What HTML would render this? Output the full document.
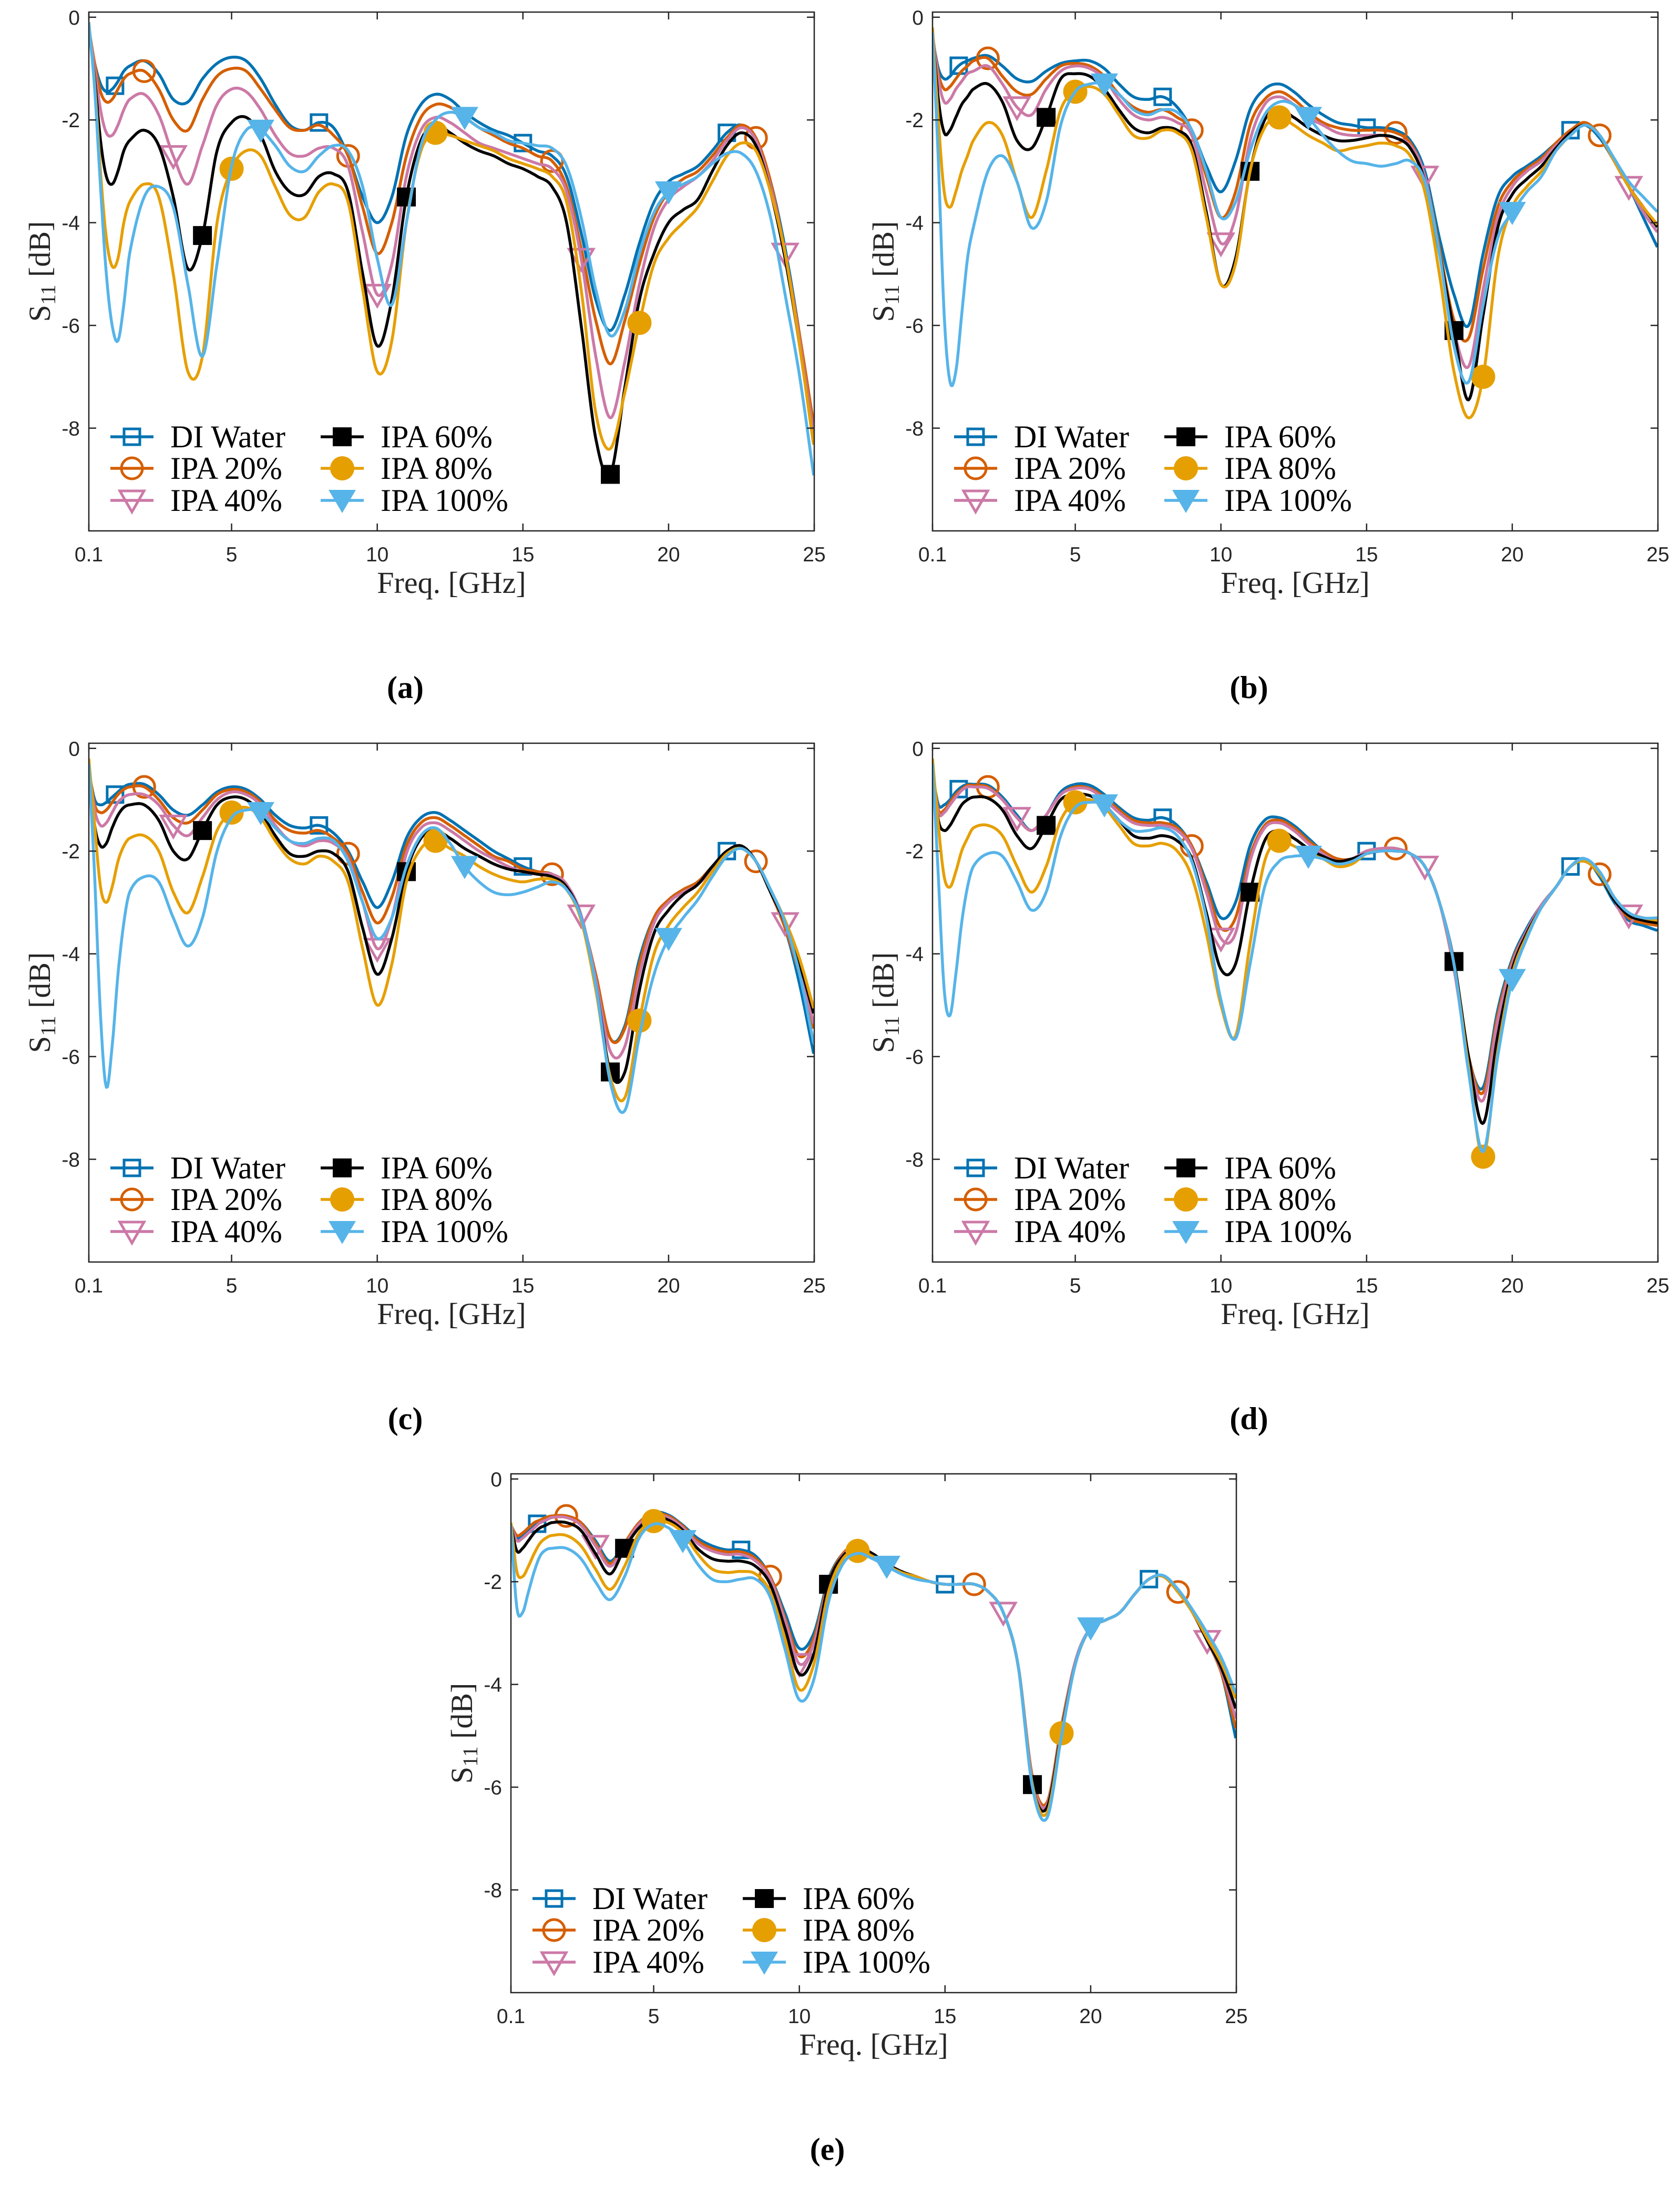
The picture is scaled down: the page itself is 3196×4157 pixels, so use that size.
<!DOCTYPE html>
<html><head><meta charset="utf-8"><title>S11 vs frequency, five panels</title>
<style>
html,body{margin:0;padding:0;background:#fff;}
svg{display:block;}
.tick{font-family:"Liberation Sans",sans-serif;font-size:39px;fill:#262626;}
.lab{font-family:"Liberation Serif",serif;font-size:58px;fill:#262626;}
.leg{font-family:"Liberation Serif",serif;font-size:60px;fill:#000;}
.sub{font-family:"Liberation Serif",serif;font-size:60px;font-weight:bold;fill:#000;}
</style></head>
<body>
<svg id="fig" xmlns="http://www.w3.org/2000/svg" width="3196" height="4157" viewBox="0 0 3196 4157"></svg>
<script>
const freqs = [0.1,0.3,0.5,0.7,0.9,1.1,1.3,1.5,2,2.5,3,3.5,4,4.5,5,5.5,6,6.5,7,7.5,8,8.5,9,9.5,10,10.5,11,11.5,12,12.5,13,13.5,14,14.5,15,15.5,16,16.5,17,17.5,18,18.5,19,19.5,20,20.5,21,21.5,22,22.5,23,23.5,24,24.5,25];
const xTicks = [0.1,5,10,15,20,25];
const xTickLabels = ["0.1","5","10","15","20","25"];
const yTicks = [0,-2,-4,-6,-8];
const yTickLabels = ["0","-2","-4","-6","-8"];
const seriesNames = ["DI Water","IPA 20%","IPA 40%","IPA 60%","IPA 80%","IPA 100%"];
const markerFreqs = [[1,8,15,22],[2,9,16,23],[3,10,17,24],[4,11,18],[5,12,19],[6,13,20]];
const panelLabels = ["(a)","(b)","(c)","(d)","(e)"];

const a_di  = [-0.35,-0.9,-1.3,-1.45,-1.4,-1.25,-1.05,-0.95,-0.85,-1.1,-1.6,-1.65,-1.2,-0.9,-0.78,-0.85,-1.2,-1.7,-2.1,-2.2,-2.05,-2.15,-2.7,-3.5,-4.0,-3.5,-2.3,-1.7,-1.5,-1.6,-1.85,-2.05,-2.2,-2.3,-2.45,-2.6,-2.7,-3.1,-4.2,-5.5,-6.1,-5.4,-4.4,-3.6,-3.2,-3.05,-2.9,-2.6,-2.25,-2.1,-2.4,-3.2,-4.5,-6.2,-8.2];
const a_20  = [-0.2,-0.9,-1.45,-1.65,-1.6,-1.4,-1.2,-1.1,-1.05,-1.4,-2.0,-2.2,-1.6,-1.15,-1.0,-1.05,-1.4,-1.8,-2.15,-2.2,-2.1,-2.3,-2.7,-3.7,-4.6,-4.0,-2.7,-1.95,-1.7,-1.75,-1.95,-2.15,-2.3,-2.45,-2.55,-2.7,-2.8,-3.3,-4.5,-5.9,-6.75,-5.9,-4.8,-3.9,-3.4,-3.15,-3.0,-2.7,-2.35,-2.1,-2.35,-3.2,-4.6,-6.2,-8.0];
const a_40  = [-0.2,-1.0,-1.8,-2.25,-2.3,-2.1,-1.8,-1.6,-1.5,-1.9,-2.7,-3.25,-2.5,-1.7,-1.4,-1.45,-1.8,-2.3,-2.65,-2.7,-2.55,-2.55,-2.9,-4.2,-5.4,-4.8,-3.1,-2.2,-1.95,-2.05,-2.25,-2.45,-2.55,-2.65,-2.75,-2.85,-2.95,-3.4,-4.7,-6.6,-7.8,-6.7,-5.2,-4.1,-3.55,-3.3,-3.1,-2.8,-2.4,-2.15,-2.4,-3.3,-4.6,-6.3,-8.2];
const a_60  = [-0.2,-1.2,-2.4,-3.1,-3.25,-3.0,-2.6,-2.4,-2.2,-2.5,-3.5,-4.9,-4.25,-2.6,-2.05,-1.95,-2.3,-3.0,-3.4,-3.45,-3.1,-3.05,-3.4,-5.0,-6.4,-5.5,-3.5,-2.4,-2.1,-2.25,-2.45,-2.6,-2.7,-2.85,-2.95,-3.1,-3.3,-4.0,-6.0,-8.2,-8.9,-7.2,-5.5,-4.6,-4.0,-3.75,-3.55,-3.0,-2.5,-2.25,-2.5,-3.4,-4.7,-6.4,-8.4];
const a_80  = [-0.1,-1.3,-3.0,-4.3,-4.85,-4.7,-4.0,-3.6,-3.25,-3.5,-5.0,-6.9,-6.6,-4.0,-2.95,-2.6,-2.7,-3.3,-3.85,-3.9,-3.4,-3.25,-3.6,-5.3,-6.9,-6.3,-4.0,-2.6,-2.25,-2.3,-2.4,-2.5,-2.6,-2.75,-2.85,-2.95,-3.1,-3.6,-5.3,-7.7,-8.4,-7.3,-5.95,-4.8,-4.3,-4.0,-3.7,-3.2,-2.7,-2.45,-2.6,-3.4,-4.6,-6.4,-8.4];
const a_100 = [-0.1,-1.4,-3.3,-5.0,-6.0,-6.3,-5.6,-4.6,-3.5,-3.3,-3.7,-5.2,-6.6,-4.8,-2.9,-2.2,-2.2,-2.5,-2.9,-3.0,-2.7,-2.5,-2.6,-3.3,-4.7,-5.6,-4.0,-2.5,-2.0,-1.85,-1.95,-2.15,-2.25,-2.4,-2.45,-2.5,-2.55,-2.9,-3.9,-5.3,-6.2,-5.7,-4.6,-3.8,-3.4,-3.25,-3.1,-2.85,-2.65,-2.65,-3.0,-3.9,-5.4,-7.0,-9.0];

const b_di  = [-0.4,-1.0,-1.2,-1.15,-1.0,-0.9,-0.85,-0.8,-0.75,-0.95,-1.2,-1.25,-1.05,-0.9,-0.85,-0.85,-1.0,-1.3,-1.55,-1.6,-1.55,-1.75,-2.2,-2.9,-3.4,-2.8,-1.8,-1.4,-1.3,-1.45,-1.7,-1.9,-2.05,-2.1,-2.15,-2.15,-2.2,-2.4,-3.0,-4.3,-5.4,-6.0,-4.6,-3.5,-3.1,-2.9,-2.7,-2.45,-2.2,-2.1,-2.35,-2.8,-3.3,-3.9,-4.5];
const b_20  = [-0.35,-1.1,-1.4,-1.35,-1.2,-1.05,-0.95,-0.85,-0.8,-1.15,-1.45,-1.5,-1.2,-0.95,-0.9,-0.95,-1.15,-1.5,-1.75,-1.85,-1.8,-1.95,-2.2,-3.1,-3.9,-3.4,-2.1,-1.6,-1.45,-1.6,-1.85,-2.05,-2.15,-2.2,-2.2,-2.2,-2.25,-2.45,-3.1,-4.5,-5.9,-6.25,-4.9,-3.7,-3.2,-2.95,-2.75,-2.45,-2.2,-2.05,-2.3,-2.8,-3.3,-3.7,-4.1];
const b_40  = [-0.3,-1.2,-1.65,-1.6,-1.4,-1.25,-1.1,-1.05,-0.95,-1.3,-1.75,-1.9,-1.4,-1.05,-0.95,-1.0,-1.2,-1.6,-1.9,-2.0,-1.95,-2.05,-2.3,-3.4,-4.4,-3.9,-2.4,-1.7,-1.55,-1.7,-1.95,-2.1,-2.25,-2.3,-2.3,-2.3,-2.35,-2.5,-3.1,-4.6,-6.1,-6.8,-5.3,-3.9,-3.3,-3.0,-2.8,-2.5,-2.25,-2.1,-2.3,-2.8,-3.3,-3.8,-4.2];
const b_60  = [-0.3,-1.6,-2.25,-2.2,-1.95,-1.7,-1.55,-1.4,-1.3,-1.65,-2.4,-2.55,-1.95,-1.2,-1.1,-1.15,-1.4,-1.8,-2.15,-2.25,-2.15,-2.2,-2.5,-3.8,-5.2,-4.7,-3.0,-2.0,-1.8,-1.95,-2.15,-2.3,-2.4,-2.4,-2.35,-2.3,-2.35,-2.55,-3.2,-4.6,-6.1,-7.45,-5.8,-4.1,-3.45,-3.15,-2.9,-2.55,-2.25,-2.1,-2.3,-2.8,-3.3,-3.7,-4.1];
const b_80  = [-0.2,-2.0,-3.4,-3.7,-3.4,-3.0,-2.7,-2.4,-2.05,-2.3,-3.2,-3.9,-3.0,-1.8,-1.45,-1.35,-1.5,-1.9,-2.3,-2.35,-2.2,-2.25,-2.6,-3.9,-5.2,-4.8,-3.0,-2.15,-1.95,-2.1,-2.3,-2.45,-2.6,-2.55,-2.5,-2.45,-2.5,-2.7,-3.4,-5.0,-6.9,-7.8,-7.0,-4.7,-3.7,-3.3,-3.0,-2.6,-2.3,-2.1,-2.3,-2.8,-3.3,-3.7,-4.05];
const b_100 = [-0.3,-2.8,-5.8,-7.1,-6.9,-5.8,-4.7,-4.1,-3.0,-2.7,-3.2,-4.1,-3.6,-2.1,-1.45,-1.3,-1.3,-1.5,-1.8,-1.9,-1.8,-1.85,-2.2,-3.0,-3.9,-3.6,-2.6,-1.9,-1.65,-1.7,-1.95,-2.3,-2.6,-2.8,-2.85,-2.9,-2.85,-2.8,-3.2,-4.6,-6.4,-7.1,-5.6,-4.3,-3.8,-3.4,-3.1,-2.6,-2.3,-2.1,-2.3,-2.75,-3.2,-3.5,-3.8];

const c_di  = [-0.45,-1.0,-1.1,-1.05,-0.95,-0.85,-0.75,-0.7,-0.7,-0.9,-1.2,-1.3,-1.1,-0.85,-0.75,-0.8,-1.0,-1.3,-1.5,-1.55,-1.5,-1.65,-2.0,-2.6,-3.1,-2.6,-1.75,-1.35,-1.25,-1.4,-1.6,-1.8,-2.0,-2.15,-2.3,-2.4,-2.45,-2.7,-3.3,-4.4,-5.65,-5.4,-4.1,-3.3,-2.95,-2.75,-2.6,-2.3,-2.0,-1.9,-2.2,-2.8,-3.5,-4.6,-6.0];
const c_20  = [-0.4,-1.1,-1.25,-1.2,-1.05,-0.9,-0.8,-0.75,-0.75,-1.0,-1.35,-1.45,-1.2,-0.9,-0.8,-0.85,-1.05,-1.4,-1.6,-1.65,-1.6,-1.75,-2.05,-2.8,-3.4,-2.9,-1.9,-1.45,-1.35,-1.5,-1.7,-1.9,-2.1,-2.2,-2.35,-2.4,-2.45,-2.65,-3.3,-4.4,-5.65,-5.45,-4.2,-3.3,-2.95,-2.75,-2.6,-2.3,-2.0,-1.9,-2.2,-2.8,-3.5,-4.4,-5.5];
const c_40  = [-0.35,-1.2,-1.5,-1.45,-1.25,-1.05,-0.95,-0.9,-0.9,-1.1,-1.5,-1.7,-1.35,-1.0,-0.85,-0.9,-1.1,-1.5,-1.8,-1.9,-1.8,-1.85,-2.15,-3.0,-3.9,-3.3,-2.05,-1.55,-1.45,-1.6,-1.8,-2.0,-2.15,-2.3,-2.4,-2.45,-2.45,-2.65,-3.25,-4.5,-5.9,-5.8,-4.4,-3.4,-3.0,-2.8,-2.65,-2.35,-2.05,-1.95,-2.2,-2.8,-3.4,-4.3,-5.4];
const c_60  = [-0.35,-1.5,-1.9,-1.85,-1.55,-1.3,-1.15,-1.1,-1.1,-1.4,-2.0,-2.15,-1.6,-1.1,-0.95,-1.0,-1.25,-1.7,-2.05,-2.1,-2.0,-2.05,-2.4,-3.5,-4.4,-3.7,-2.4,-1.75,-1.6,-1.75,-1.95,-2.1,-2.25,-2.35,-2.4,-2.45,-2.5,-2.7,-3.3,-4.6,-6.3,-6.3,-4.7,-3.6,-3.15,-2.85,-2.65,-2.3,-2.0,-1.9,-2.2,-2.8,-3.4,-4.2,-5.2];
const c_80  = [-0.2,-1.5,-2.7,-3.0,-2.7,-2.2,-1.9,-1.75,-1.7,-2.0,-2.8,-3.2,-2.5,-1.6,-1.25,-1.15,-1.35,-1.8,-2.15,-2.25,-2.1,-2.2,-2.6,-3.9,-5.0,-4.2,-2.6,-1.95,-1.8,-1.95,-2.1,-2.3,-2.45,-2.55,-2.6,-2.55,-2.55,-2.75,-3.35,-4.7,-6.4,-6.8,-5.3,-4.0,-3.45,-3.1,-2.8,-2.4,-2.05,-1.95,-2.2,-2.75,-3.35,-4.1,-5.1];
const c_100 = [-0.3,-2.5,-5.2,-6.6,-5.8,-4.4,-3.4,-2.8,-2.5,-2.6,-3.3,-3.85,-3.3,-2.0,-1.35,-1.2,-1.25,-1.55,-1.8,-1.85,-1.75,-1.8,-2.2,-3.0,-3.7,-3.3,-2.3,-1.7,-1.55,-1.85,-2.3,-2.6,-2.8,-2.85,-2.8,-2.7,-2.6,-2.75,-3.3,-4.6,-6.5,-7.05,-5.6,-4.4,-3.7,-3.3,-2.95,-2.5,-2.1,-1.95,-2.2,-2.75,-3.4,-4.4,-5.8];

const d_di  = [-0.5,-1.1,-1.1,-1.0,-0.85,-0.75,-0.7,-0.7,-0.72,-0.95,-1.3,-1.6,-1.3,-0.85,-0.7,-0.72,-0.9,-1.15,-1.35,-1.4,-1.35,-1.5,-1.9,-2.6,-3.3,-3.0,-1.9,-1.4,-1.35,-1.5,-1.75,-2.0,-2.15,-2.15,-2.0,-1.95,-1.95,-2.05,-2.3,-3.0,-4.2,-6.0,-6.6,-5.1,-4.1,-3.5,-3.05,-2.7,-2.3,-2.15,-2.5,-3.0,-3.35,-3.45,-3.55];
const d_20  = [-0.45,-1.2,-1.2,-1.05,-0.9,-0.8,-0.72,-0.72,-0.75,-1.0,-1.35,-1.6,-1.3,-0.9,-0.75,-0.78,-0.95,-1.2,-1.4,-1.45,-1.45,-1.55,-1.9,-2.7,-3.5,-3.3,-2.1,-1.5,-1.4,-1.55,-1.8,-2.0,-2.15,-2.15,-2.0,-1.95,-1.95,-2.05,-2.3,-3.0,-4.3,-6.0,-6.7,-5.2,-4.15,-3.55,-3.05,-2.7,-2.3,-2.2,-2.45,-2.95,-3.3,-3.4,-3.45];
const d_40  = [-0.45,-1.25,-1.25,-1.1,-0.95,-0.82,-0.75,-0.75,-0.78,-1.0,-1.35,-1.6,-1.3,-0.9,-0.78,-0.8,-1.0,-1.25,-1.45,-1.5,-1.5,-1.6,-1.95,-2.8,-3.7,-3.6,-2.2,-1.55,-1.45,-1.6,-1.85,-2.05,-2.2,-2.15,-2.0,-1.95,-1.95,-2.05,-2.3,-3.0,-4.3,-6.05,-6.85,-5.3,-4.2,-3.55,-3.05,-2.7,-2.3,-2.2,-2.45,-2.95,-3.25,-3.35,-3.4];
const d_60  = [-0.45,-1.4,-1.6,-1.5,-1.3,-1.1,-1.0,-0.95,-0.97,-1.2,-1.7,-1.95,-1.5,-1.0,-0.9,-0.92,-1.1,-1.4,-1.7,-1.75,-1.7,-1.8,-2.15,-3.2,-4.3,-4.2,-2.8,-1.8,-1.6,-1.75,-1.95,-2.1,-2.2,-2.15,-2.05,-2.0,-2.0,-2.05,-2.3,-3.0,-4.15,-6.0,-7.3,-5.6,-4.3,-3.6,-3.1,-2.7,-2.3,-2.2,-2.45,-2.95,-3.25,-3.35,-3.4];
const d_80  = [-0.2,-1.5,-2.5,-2.7,-2.4,-2.0,-1.75,-1.55,-1.5,-1.7,-2.3,-2.8,-2.3,-1.4,-1.05,-1.0,-1.15,-1.5,-1.85,-1.9,-1.85,-2.0,-2.5,-3.6,-5.0,-5.6,-3.8,-2.2,-1.8,-1.9,-2.05,-2.15,-2.3,-2.25,-2.05,-2.0,-2.0,-2.05,-2.3,-3.0,-4.2,-6.2,-7.95,-5.9,-4.4,-3.65,-3.1,-2.7,-2.3,-2.2,-2.45,-2.9,-3.2,-3.3,-3.35];
const d_100 = [-0.3,-2.5,-4.7,-5.2,-4.4,-3.4,-2.7,-2.3,-2.05,-2.1,-2.6,-3.15,-2.8,-1.7,-1.15,-1.05,-1.1,-1.4,-1.6,-1.6,-1.55,-1.7,-2.2,-3.3,-4.9,-5.65,-4.2,-2.7,-2.2,-2.1,-2.1,-2.15,-2.25,-2.2,-2.05,-2.0,-2.0,-2.05,-2.3,-3.0,-4.2,-6.3,-7.85,-6.0,-4.5,-3.7,-3.1,-2.7,-2.3,-2.15,-2.4,-2.9,-3.2,-3.3,-3.3];

const e_di  = [-0.9,-1.15,-1.1,-1.0,-0.9,-0.85,-0.8,-0.75,-0.72,-0.85,-1.2,-1.6,-1.25,-0.85,-0.65,-0.7,-0.9,-1.15,-1.3,-1.38,-1.38,-1.5,-1.9,-2.6,-3.3,-3.0,-1.95,-1.45,-1.3,-1.45,-1.65,-1.8,-1.9,-2.0,-2.05,-2.05,-2.05,-2.2,-2.6,-3.6,-5.8,-6.3,-4.8,-3.5,-2.9,-2.75,-2.6,-2.25,-1.95,-1.9,-2.2,-2.6,-3.1,-3.8,-5.1];
const e_20  = [-0.9,-1.1,-1.05,-0.95,-0.85,-0.8,-0.75,-0.72,-0.72,-0.85,-1.25,-1.65,-1.25,-0.85,-0.68,-0.72,-0.92,-1.2,-1.35,-1.42,-1.42,-1.55,-1.9,-2.7,-3.45,-3.1,-2.0,-1.45,-1.3,-1.45,-1.65,-1.8,-1.9,-2.0,-2.05,-2.05,-2.05,-2.2,-2.6,-3.6,-5.8,-6.3,-4.8,-3.5,-2.9,-2.75,-2.6,-2.25,-1.95,-1.9,-2.2,-2.6,-3.15,-3.8,-4.9];
const e_40  = [-0.9,-1.2,-1.15,-1.05,-0.95,-0.85,-0.8,-0.75,-0.75,-0.9,-1.3,-1.7,-1.3,-0.88,-0.7,-0.75,-0.95,-1.25,-1.4,-1.47,-1.47,-1.6,-1.95,-2.75,-3.6,-3.2,-2.05,-1.48,-1.32,-1.45,-1.65,-1.8,-1.9,-2.0,-2.05,-2.05,-2.05,-2.2,-2.6,-3.6,-5.85,-6.35,-4.85,-3.5,-2.9,-2.75,-2.6,-2.25,-1.95,-1.9,-2.2,-2.6,-3.15,-3.75,-4.7];
const e_60  = [-0.9,-1.4,-1.35,-1.2,-1.05,-0.95,-0.9,-0.85,-0.85,-1.0,-1.45,-1.85,-1.35,-0.95,-0.75,-0.8,-1.0,-1.35,-1.55,-1.6,-1.6,-1.7,-2.05,-2.9,-3.8,-3.4,-2.05,-1.5,-1.35,-1.45,-1.65,-1.8,-1.9,-2.0,-2.05,-2.05,-2.05,-2.2,-2.6,-3.6,-5.95,-6.4,-4.9,-3.55,-2.9,-2.75,-2.6,-2.25,-1.95,-1.9,-2.2,-2.6,-3.15,-3.7,-4.5];
const e_80  = [-0.85,-1.8,-1.9,-1.7,-1.45,-1.25,-1.15,-1.1,-1.1,-1.3,-1.75,-2.15,-1.7,-1.05,-0.82,-0.85,-1.05,-1.45,-1.75,-1.82,-1.8,-1.85,-2.2,-3.1,-4.1,-3.6,-2.2,-1.55,-1.4,-1.5,-1.68,-1.82,-1.9,-2.0,-2.05,-2.05,-2.05,-2.2,-2.6,-3.6,-5.95,-6.5,-4.95,-3.55,-2.9,-2.75,-2.6,-2.25,-1.95,-1.9,-2.2,-2.6,-3.1,-3.6,-4.3];
const e_100 = [-0.9,-2.5,-2.6,-2.2,-1.8,-1.5,-1.38,-1.35,-1.35,-1.55,-2.0,-2.35,-1.9,-1.15,-0.88,-0.95,-1.2,-1.65,-1.95,-2.0,-1.95,-1.95,-2.3,-3.3,-4.3,-3.9,-2.4,-1.65,-1.45,-1.55,-1.7,-1.85,-1.95,-2.0,-2.05,-2.05,-2.05,-2.2,-2.6,-3.6,-6.0,-6.6,-5.0,-3.55,-2.9,-2.75,-2.6,-2.25,-1.95,-1.88,-2.15,-2.55,-3.0,-3.5,-4.2];

const panelA = [a_di,a_20,a_40,a_60,a_80,a_100];
const panelB = [b_di,b_20,b_40,b_60,b_80,b_100];
const panelC = [c_di,c_20,c_40,c_60,c_80,c_100];
const panelD = [d_di,d_20,d_40,d_60,d_80,d_100];
const panelE = [e_di,e_20,e_40,e_60,e_80,e_100];

const NS = "http://www.w3.org/2000/svg";
const svg = document.getElementById('fig');
const colors = ["#0072B2","#D55E00","#CC79A7","#000000","#E69F00","#56B4E9"];
const mtypes = ["sq","ci","tri","fsq","fci","ftri"];
const panels = [
  {L:169, T:23, data:panelA},
  {L:1774, T:23, data:panelB},
  {L:169, T:1414, data:panelC},
  {L:1774, T:1414, data:panelD},
  {L:972, T:2804, data:panelE}
];
const W = 1380, H = 987, XMIN = 0.1, XMAX = 25, YMIN = -10, YMAX = 0.1;

function mk(tag, attrs, parent){
  const e = document.createElementNS(NS, tag);
  for (const k in attrs) e.setAttribute(k, attrs[k]);
  (parent||svg).appendChild(e);
  return e;
}
function interp(F, V, f){
  const n = Math.min(F.length, V.length);
  if (f <= F[0]) return V[0];
  if (f >= F[n-1]) return V[n-1];
  let i = 0;
  while (i < n-2 && F[i+1] < f) i++;
  const x0=F[i], x1=F[i+1], y0=V[i], y1=V[i+1], h=x1-x0;
  const m0 = i>0 ? (V[i+1]-V[i-1])/(F[i+1]-F[i-1]) : (y1-y0)/h;
  const m1 = i+2<n ? (V[i+2]-V[i])/(F[i+2]-F[i]) : (y1-y0)/h;
  const t=(f-x0)/h, t2=t*t, t3=t2*t;
  return (2*t3-3*t2+1)*y0 + (t3-2*t2+t)*h*m0 + (-2*t3+3*t2)*y1 + (t3-t2)*h*m1;
}
function drawMarker(g, type, cx, cy, color){
  let el;
  if (type==="sq") el = mk('rect',{x:cx-15,y:cy-15,width:30,height:30,fill:'none',stroke:color,'stroke-width':5},g);
  else if (type==="ci") el = mk('circle',{cx:cx,cy:cy,r:20,fill:'none',stroke:color,'stroke-width':5},g);
  else if (type==="tri") el = mk('polygon',{points:`${cx-23},${cy-18} ${cx+23},${cy-18} ${cx},${cy+22}`,fill:'none',stroke:color,'stroke-width':5},g);
  else if (type==="fsq") el = mk('rect',{x:cx-18,y:cy-18,width:36,height:36,fill:color},g);
  else if (type==="fci") el = mk('circle',{cx:cx,cy:cy,r:23,fill:color},g);
  else el = mk('polygon',{points:`${cx-26},${cy-20} ${cx+26},${cy-20} ${cx},${cy+24}`,fill:color},g);
  
  
  return el;
}

panels.forEach((p, pi) => {
  const L=p.L, T=p.T;
  const xs = f => L + (f-XMIN)/(XMAX-XMIN)*W;
  const ys = v => T + (YMAX-v)/(YMAX-YMIN)*H;
  const g = mk('g',{});
  
  
  const clipId = 'clip'+pi;
  const cp = mk('clipPath',{id:clipId},g);
  mk('rect',{x:L,y:T,width:W,height:H},cp);
  p.data.forEach((vals, si) => {
    const sg = mk('g',{},g);
    
    
    let d = '';
    for (let f = XMIN; f <= XMAX + 1e-9; f += 0.04){
      const ff = Math.min(f, XMAX);
      d += (d?'L':'M') + xs(ff).toFixed(1) + ',' + ys(interp(freqs, vals, ff)).toFixed(1);
    }
    const path = mk('path',{d:d,fill:'none',stroke:colors[si],'stroke-width':5.5,'stroke-linejoin':'round','clip-path':`url(#${clipId})`},sg);
    
    
    markerFreqs[si].forEach(mf => {
      drawMarker(sg, mtypes[si], xs(mf), ys(interp(freqs, vals, mf)), colors[si]);
    });
  });
  const box = mk('rect',{x:L,y:T,width:W,height:H,fill:'none',stroke:'#262626','stroke-width':2.5},g);
  
  
  xTicks.forEach((t, i) => {
    const x = xs(t);
    mk('line',{x1:x,y1:T+H,x2:x,y2:T+H-14,stroke:'#262626','stroke-width':2.5},g);
    mk('line',{x1:x,y1:T,x2:x,y2:T+14,stroke:'#262626','stroke-width':2.5},g);
    const tx = mk('text',{x:x,y:T+H+58,'text-anchor':'middle',class:'tick'},g);
    tx.textContent = xTickLabels[i];
    
    
  });
  yTicks.forEach((t, i) => {
    const y = ys(t);
    mk('line',{x1:L,y1:y,x2:L+14,y2:y,stroke:'#262626','stroke-width':2.5},g);
    mk('line',{x1:L+W,y1:y,x2:L+W-14,y2:y,stroke:'#262626','stroke-width':2.5},g);
    const ty = mk('text',{x:L-17,y:y+14,'text-anchor':'end',class:'tick'},g);
    ty.textContent = yTickLabels[i];
    
    
  });
  const xl = mk('text',{x:L+W/2,y:T+H+118,'text-anchor':'middle',class:'lab'},g);
  xl.textContent = 'Freq. [GHz]';
  
  
  const cy = T+H/2;
  const yl = mk('text',{x:L-94,y:cy,'text-anchor':'middle',class:'lab',transform:`rotate(-90 ${L-94} ${cy})`,dy:'20'},g);
  
  
  const s1 = mk('tspan',{},yl); s1.textContent = 'S';
  const s2 = mk('tspan',{'font-size':'40',dy:'10'},yl); s2.textContent = '11';
  const s3 = mk('tspan',{dy:'-10'},yl); s3.textContent = ' [dB]';
  const lg = mk('g',{},g);
  
  
  const rows = [808, 868, 929];
  seriesNames.forEach((nm, si) => {
    const col = si < 3 ? 0 : 1, row = si % 3;
    const x0 = L + (col ? 441 : 41), y0 = T + rows[row];
    const eg = mk('g',{},lg);
    
    
    mk('line',{x1:x0,y1:y0,x2:x0+82,y2:y0,stroke:colors[si],'stroke-width':5.5},eg);
    drawMarker(eg, mtypes[si], x0+41, y0, colors[si]);
    const t = mk('text',{x:x0+114,y:y0+20,class:'leg'},eg);
    t.textContent = nm;
  });
  const sl = mk('text',{x:L+W/2-88,y:T+1305,'text-anchor':'middle',class:'sub'},g);
  sl.textContent = panelLabels[pi];
  
  
});
</script>
</body></html>
